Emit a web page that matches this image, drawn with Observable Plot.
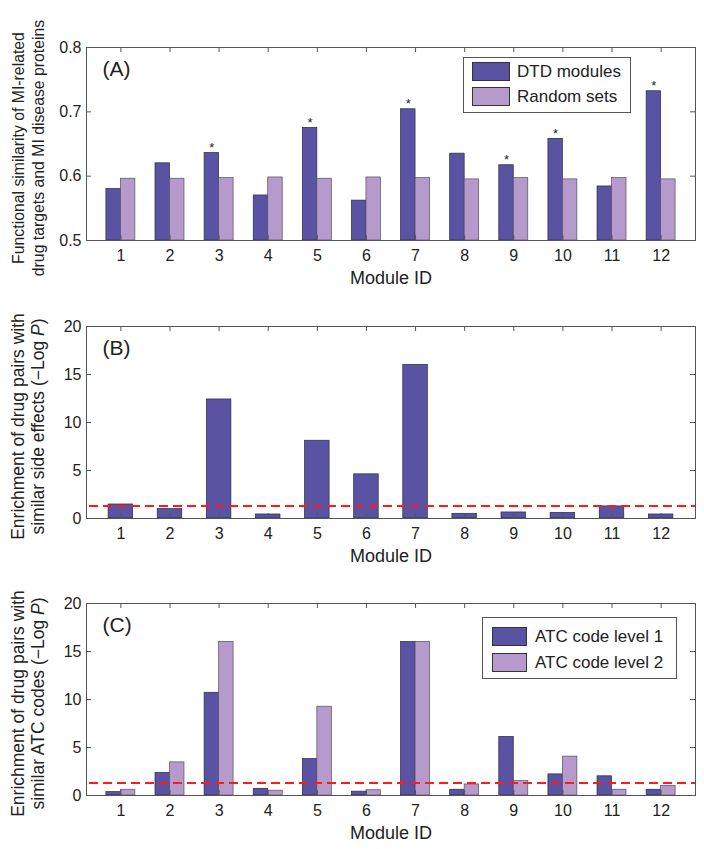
<!DOCTYPE html>
<html><head><meta charset="utf-8">
<script src="https://cdn.jsdelivr.net/npm/d3@7"></script>
<script src="https://cdn.jsdelivr.net/npm/@observablehq/plot@0.6"></script>
<style>
body{margin:0;background:#fff;}
#wrap{position:relative;width:704px;height:849px;font-family:"Liberation Sans",Arial,sans-serif;}
#wrap svg{display:block;}
.legend{position:absolute;border:1px solid #555;background:#fff;box-sizing:border-box;}
.legend .row{position:absolute;display:flex;align-items:center;font-size:17px;color:#222;white-space:nowrap;}
.legend .sw{box-sizing:border-box;border:1px solid #333;}
</style>
</head><body><div id="wrap"></div>
<script>
// ---- data ----
const moduleIds = [1,2,3,4,5,6,7,8,9,10,11,12];
const dtdModules = [0.580,0.620,0.636,0.570,0.675,0.562,0.704,0.635,0.617,0.658,0.584,0.732];
const randomSets = [0.596,0.596,0.597,0.598,0.596,0.598,0.597,0.595,0.597,0.595,0.597,0.595];
const significantModules = [3,5,7,9,10,12];
const sideEffects = [1.46,0.98,12.4,0.42,8.1,4.6,16.0,0.49,0.63,0.59,1.26,0.42];
const atcLevel1 = [0.35,2.35,10.7,0.7,3.8,0.4,16.0,0.6,6.1,2.2,2.0,0.6];
const atcLevel2 = [0.6,3.45,16.0,0.5,9.25,0.55,16.0,1.15,1.5,4.05,0.6,1.0];
const yTicksA = [0.5,0.6,0.7,0.8];
const yTicksBC = [0,5,10,15,20];
const threshold = 1.3;
const seriesA = ["DTD modules","Random sets"];
const seriesC = ["ATC code level 1","ATC code level 2"];

const DARK = "#5a53a3", LIGHT = "#b69acb";
const FONT = "'Liberation Sans', Arial, sans-serif";
const W = 704, ML = 86, MR = 9;
const FW = W - ML - MR;
const XD = [0.3, 12.7];

function panel({height, mt, mb, ydomain, yticks, marks, label, labelSize, letter}) {
  const FH = height - mt - mb;
  const fmt = d => ydomain[1] < 1 ? d.toFixed(1) : String(d);
  return Plot.plot({
    width: W, height, marginLeft: ML, marginRight: MR, marginTop: mt, marginBottom: mb,
    style: {fontFamily: FONT, fontSize: "16px", color: "#222", background: "#fff"},
    x: {domain: XD},
    y: {domain: ydomain},
    marks: [
      ...marks,
      Plot.frame({stroke: "#555", strokeWidth: 1}),
      // inward ticks (MATLAB style)
      Plot.tickX(moduleIds, {x: d => d, stroke: "#555", insetTop: FH - 5}),
      Plot.tickX(moduleIds, {x: d => d, stroke: "#555", insetBottom: FH - 5}),
      Plot.tickY(yticks, {y: d => d, stroke: "#555", insetRight: FW - 5}),
      Plot.tickY(yticks, {y: d => d, stroke: "#555", insetLeft: FW - 5}),
      Plot.axisX(moduleIds, {tickSize: 0, tickPadding: 9, fontSize: 16, label: null, tickFormat: d => String(d)}),
      Plot.axisY(yticks, {tickSize: 0, tickPadding: 5, fontSize: 16, label: null, tickFormat: fmt}),
      Plot.text(["Module ID"], {frameAnchor: "bottom", dy: 43, fontSize: 18, fill: "#222"}),
      Plot.text([label], {frameAnchor: "left", rotate: -90, dx: -59, dy: 4, fontSize: labelSize, lineHeight: 20 / labelSize, fill: "#222", textAnchor: "middle"}),
      Plot.text([letter], {frameAnchor: "top-left", dx: 16, dy: 14, fontSize: 21, textAnchor: "start", lineAnchor: "top", fill: "#222"})
    ]
  });
}

const tableA = moduleIds.map((id, i) => ({id, dtd: dtdModules[i], rnd: randomSets[i]}));
const tableB = moduleIds.map((id, i) => ({id, v: sideEffects[i]}));
const tableC = moduleIds.map((id, i) => ({id, l1: atcLevel1[i], l2: atcLevel2[i]}));
const BW = 0.295;

const pA = panel({
  height: 290, mt: 47, mb: 50, ydomain: [0.5, 0.8], yticks: yTicksA, letter: "(A)", labelSize: 15.8,
  label: "Functional similarity of MI-related\ndrug targets and MI disease proteins",
  marks: [
    Plot.rect(tableA, {x1: d => d.id - BW, x2: "id", y1: 0.5, y2: "dtd", fill: DARK, stroke: "#2a2a40", strokeWidth: 0.7}),
    Plot.rect(tableA, {x1: "id", x2: d => d.id + BW, y1: 0.5, y2: "rnd", fill: LIGHT, stroke: "#55505f", strokeWidth: 0.7}),
    Plot.text(tableA.filter(d => significantModules.includes(d.id)), {x: d => d.id - BW/2, y: "dtd", text: () => "*", dy: -5, fontSize: 13, fill: "#222"})
  ]
});

const pB = panel({
  height: 277, mt: 36, mb: 49, ydomain: [0, 20], yticks: yTicksBC, letter: "(B)", labelSize: 17.5,
  label: "Enrichment of drug pairs with\nsimilar side effects (\u2212Log P)",
  marks: [
    Plot.rect(tableB, {x1: d => d.id - 0.25, x2: d => d.id + 0.25, y1: 0, y2: "v", fill: DARK, stroke: "#2a2a40", strokeWidth: 0.7}),
    Plot.ruleY([threshold], {stroke: "#ff1a1a", strokeWidth: 2, strokeDasharray: "9,5", insetLeft: 3})
  ]
});

const pC = panel({
  height: 282, mt: 36, mb: 54, ydomain: [0, 20], yticks: yTicksBC, letter: "(C)", labelSize: 17.5,
  label: "Enrichment of drug pairs with\nsimilar ATC codes (\u2212Log P)",
  marks: [
    Plot.rect(tableC, {x1: d => d.id - BW, x2: "id", y1: 0, y2: "l1", fill: DARK, stroke: "#2a2a40", strokeWidth: 0.7}),
    Plot.rect(tableC, {x1: "id", x2: d => d.id + BW, y1: 0, y2: "l2", fill: LIGHT, stroke: "#55505f", strokeWidth: 0.7}),
    Plot.ruleY([threshold], {stroke: "#ff1a1a", strokeWidth: 2, strokeDasharray: "9,5", insetLeft: 3})
  ]
});

const wrap = document.getElementById("wrap");
[pA, pB, pC].forEach(p => wrap.appendChild(p));

// italic P in the y labels
wrap.querySelectorAll("tspan, text").forEach(t => {
  if (t.childElementCount === 0 && t.textContent.includes("Log P)")) {
    const txt = t.textContent;
    const idx = txt.lastIndexOf("P)");
    t.textContent = txt.slice(0, idx);
    const it = document.createElementNS("http://www.w3.org/2000/svg", "tspan");
    it.setAttribute("font-style", "italic");
    it.textContent = "P";
    t.appendChild(it);
    t.appendChild(document.createTextNode(")"));
  }
});

// legends
function legend(names, colors, box, sw, textX, rows) {
  const div = document.createElement("div");
  div.className = "legend";
  Object.assign(div.style, {left: box[0] + "px", top: box[1] + "px", width: (box[2] - box[0]) + "px", height: (box[3] - box[1]) + "px"});
  names.forEach((n, i) => {
    const r = document.createElement("div");
    r.className = "row";
    Object.assign(r.style, {left: (sw[0] - box[0] - 1) + "px", top: (rows[i] - box[1] - 1) + "px", height: sw[2] + "px"});
    const s = document.createElement("div");
    s.className = "sw";
    Object.assign(s.style, {width: sw[1] + "px", height: sw[2] + "px", background: colors[i], marginRight: (textX - sw[0] - sw[1]) + "px"});
    r.appendChild(s);
    const l = document.createElement("span");
    l.textContent = n;
    r.appendChild(l);
    div.appendChild(r);
  });
  wrap.appendChild(div);
}
legend(seriesA, [DARK, LIGHT], [463, 57, 631, 113], [472, 38, 19], 517, [62, 87]);
legend(seriesC, [DARK, LIGHT], [482, 617, 677, 679], [492, 35, 19], 535, [627, 653]);
</script>
</body></html>
